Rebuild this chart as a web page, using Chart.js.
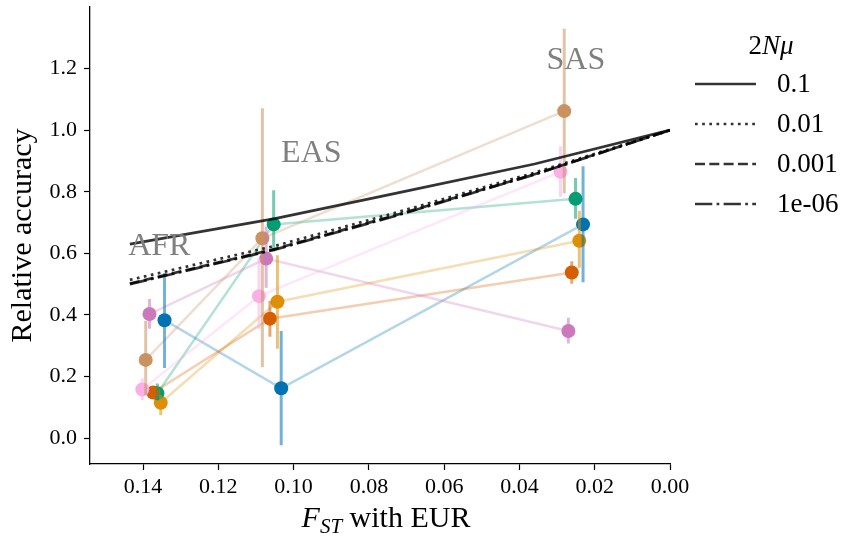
<!DOCTYPE html>
<html><head><meta charset="utf-8">
<script src="https://cdn.jsdelivr.net/npm/chart.js@4.4.1/dist/chart.umd.min.js"></script>
<style>html,body{margin:0;padding:0;background:#fff;}#wrap{width:847px;height:538px;}</style>
</head><body><div id="wrap"><canvas id="c" width="847" height="538"></canvas></div>
<script>
// ---------- data ----------
const populations = ['AFR', 'EAS', 'SAS'];
const xTicks = [0.14, 0.12, 0.10, 0.08, 0.06, 0.04, 0.02, 0.00];
const yTicks = [0.0, 0.2, 0.4, 0.6, 0.8, 1.0, 1.2];

const fst_pink   = [0.1402, 0.1092, 0.0291];
const acc_pink   = [0.158, 0.461, 0.865];
const lo_pink    = [0.123, 0.355, 0.784];
const hi_pink    = [0.194, 0.585, 0.948];

const fst_brown  = [0.1393, 0.1083, 0.0281];
const acc_brown  = [0.254, 0.649, 1.062];
const lo_brown   = [0.140, 0.230, 0.795];
const hi_brown   = [0.380, 1.071, 1.329];

const fst_purple = [0.1383, 0.1073, 0.0270];
const acc_purple = [0.403, 0.583, 0.348];
const lo_purple  = [0.355, 0.488, 0.307];
const hi_purple  = [0.452, 0.687, 0.391];

const fst_red    = [0.1373, 0.1063, 0.0261];
const acc_red    = [0.148, 0.388, 0.538];
const lo_red     = [0.130, 0.329, 0.501];
const hi_red     = [0.168, 0.445, 0.574];

const fst_green  = [0.1362, 0.1053, 0.0251];
const acc_green  = [0.146, 0.694, 0.777];
const lo_green   = [0.123, 0.606, 0.712];
const hi_green   = [0.177, 0.805, 0.845];

const fst_orange = [0.1353, 0.1043, 0.0241];
const acc_orange = [0.115, 0.443, 0.641];
const lo_orange  = [0.074, 0.290, 0.553];
const hi_orange  = [0.139, 0.594, 0.738];

const fst_blue   = [0.1343, 0.1033, 0.0231];
const acc_blue   = [0.383, 0.162, 0.694];
const lo_blue    = [0.228, -0.023, 0.506];
const hi_blue    = [0.536, 0.348, 0.883];

const theoryFst     = [0.1435, 0.105, 0.072, 0.036, 0.0];
const theory_1e_1   = [0.630, 0.713, 0.797, 0.890, 1.0];
const theory_1e_2   = [0.514, 0.624, 0.735, 0.862, 1.0];
const theory_1e_3   = [0.502, 0.614, 0.727, 0.857, 1.0];
const theory_1e_6   = [0.500, 0.612, 0.725, 0.856, 1.0];
const theoryLabels  = ['0.1', '0.01', '0.001', '1e-06'];

const regionLabelX = [0.1357, 0.0953, 0.0250];
const regionLabelY = [0.594, 0.897, 1.200];

// ---------- styling ----------
const SERIF = "'Liberation Serif', 'DejaVu Serif', serif";
const series = [
  {name: 'pink',   color: '#fbafe4', fst: fst_pink,   acc: acc_pink,   lo: lo_pink,   hi: hi_pink},
  {name: 'brown',  color: '#ca9161', fst: fst_brown,  acc: acc_brown,  lo: lo_brown,  hi: hi_brown},
  {name: 'purple', color: '#cc78bc', fst: fst_purple, acc: acc_purple, lo: lo_purple, hi: hi_purple},
  {name: 'red',    color: '#d55e00', fst: fst_red,    acc: acc_red,    lo: lo_red,    hi: hi_red},
  {name: 'green',  color: '#029e73', fst: fst_green,  acc: acc_green,  lo: lo_green,  hi: hi_green},
  {name: 'orange', color: '#de8f05', fst: fst_orange, acc: acc_orange, lo: lo_orange, hi: hi_orange},
  {name: 'blue',   color: '#0173b2', fst: fst_blue,   acc: acc_blue,   lo: lo_blue,   hi: hi_blue},
];
function rgba(hex, a) {
  const n = parseInt(hex.slice(1), 16);
  return `rgba(${(n >> 16) & 255},${(n >> 8) & 255},${n & 255},${a})`;
}
const LW = 2.7;
const theory = [
  {label: theoryLabels[0], vals: theory_1e_1, dash: []},
  {label: theoryLabels[1], vals: theory_1e_2, dash: [LW * 1, LW * 1.65]},
  {label: theoryLabels[2], vals: theory_1e_3, dash: [LW * 3.7, LW * 1.6]},
  {label: theoryLabels[3], vals: theory_1e_6, dash: [LW * 6.4, LW * 1.6, LW * 1, LW * 1.6]},
];
const THEORY_COLOR = 'rgba(0,0,0,0.8)';

const datasets = [];
theory.forEach(t => datasets.push({
  label: t.label, isTheory: true,
  data: theoryFst.map((x, i) => ({x, y: t.vals[i]})),
  showLine: true, pointRadius: 0, borderColor: THEORY_COLOR, borderWidth: LW,
  borderDash: t.dash, borderCapStyle: 'butt', order: 0
}));
series.forEach(s => {
  const bars = [];
  s.fst.forEach((x, i) => { bars.push({x, y: s.lo[i]}, {x, y: s.hi[i]}, {x, y: null}); });
  datasets.push({
    label: s.name + ' CI', data: bars, showLine: true, spanGaps: false, pointRadius: 0,
    borderColor: rgba(s.color, 0.55), borderWidth: 3, borderCapStyle: 'butt', order: 1
  });
  datasets.push({
    label: s.name, data: s.fst.map((x, i) => ({x, y: s.acc[i]})), showLine: false,
    pointRadius: 7, pointHoverRadius: 7, pointBackgroundColor: s.color, pointBorderWidth: 0, order: 2
  });
  datasets.push({
    label: s.name + ' line', data: s.fst.map((x, i) => ({x, y: s.acc[i]})), showLine: true,
    pointRadius: 0, borderColor: rgba(s.color, 0.3), borderWidth: 2.5, order: 3
  });
});

const overlay = {
  id: 'overlay',
  afterDatasetsDraw(chart) {
    const ctx = chart.ctx, xs = chart.scales.x, ys = chart.scales.y;
    ctx.save();
    ctx.fillStyle = '#808080';
    ctx.font = `32px ${SERIF}`;
    ctx.textAlign = 'center';
    ctx.textBaseline = 'alphabetic';
    populations.forEach((n, i) => ctx.fillText(n, xs.getPixelForValue(regionLabelX[i]), ys.getPixelForValue(regionLabelY[i])));
    ctx.restore();
  },
  afterDraw(chart) {
    const ctx = chart.ctx, ca = chart.chartArea;
    ctx.save();
    ctx.fillStyle = '#000';
    ctx.textBaseline = 'alphabetic';
    ctx.textAlign = 'left';
    const parts = [
      {t: 'F', f: `italic 30px ${SERIF}`, dy: 0},
      {t: 'ST', f: `italic 21px ${SERIF}`, dy: 6},
      {t: ' with EUR', f: `30px ${SERIF}`, dy: 0}
    ];
    let total = 0;
    parts.forEach(p => { ctx.font = p.f; p.w = ctx.measureText(p.t).width; total += p.w; });
    let x = (ca.left + ca.right) / 2 - total / 2 + 6;
    parts.forEach(p => { ctx.font = p.f; ctx.fillText(p.t, x, 527 + p.dy); x += p.w; });
    const tparts = [
      {t: '2', f: `27px ${SERIF}`},
      {t: 'N', f: `italic 27px ${SERIF}`},
      {t: 'μ', f: `italic 27px ${SERIF}`}
    ];
    total = 0;
    tparts.forEach(p => { ctx.font = p.f; p.w = ctx.measureText(p.t).width; total += p.w; });
    x = 771 - total / 2;
    tparts.forEach(p => { ctx.font = p.f; ctx.fillText(p.t, x, 54); x += p.w; });
    const tds = chart.data.datasets.filter(d => d.isTheory);
    tds.forEach((d, i) => {
      const y = 84 + i * 40;
      ctx.save();
      ctx.strokeStyle = d.borderColor;
      ctx.lineWidth = d.borderWidth;
      ctx.lineCap = 'butt';
      ctx.setLineDash(d.borderDash);
      ctx.beginPath(); ctx.moveTo(695, y); ctx.lineTo(756, y); ctx.stroke();
      ctx.restore();
      ctx.font = `27px ${SERIF}`;
      ctx.textBaseline = 'middle';
      ctx.fillText(d.label, 777, y + 1);
    });
    ctx.restore();
  }
};

new Chart(document.getElementById('c'), {
  type: 'scatter',
  data: {datasets},
  options: {
    responsive: false, animation: false, devicePixelRatio: 1,
    layout: {padding: {left: 0, right: 177, top: 4, bottom: 0}},
    plugins: {legend: {display: false}, tooltip: {enabled: false}},
    events: [],
    scales: {
      x: {
        type: 'linear', reverse: true, min: 0, max: 0.1541,
        afterBuildTicks: s => { s.ticks = xTicks.map(v => ({value: v})); },
        afterFit: s => { s.height = 74; s.paddingLeft = 0; s.paddingRight = 0; s.paddingTop = 0; s.paddingBottom = 0; },
        grid: {drawOnChartArea: false, drawTicks: true, tickLength: 6, tickColor: '#000', tickWidth: 1.2},
        border: {display: true, color: '#000', width: 1.3},
        ticks: {color: '#000', font: {family: SERIF, size: 22}, padding: 4, maxRotation: 0,
                callback: v => Number(v).toFixed(2)}
      },
      y: {
        type: 'linear', min: -0.084, max: 1.40,
        afterBuildTicks: s => { s.ticks = yTicks.map(v => ({value: v})); },
        afterFit: s => { s.width = 90; s.paddingTop = 0; s.paddingBottom = 0; s.paddingLeft = 0; s.paddingRight = 0; },
        grid: {drawOnChartArea: false, drawTicks: true, tickLength: 6, tickColor: '#000', tickWidth: 1.2},
        border: {display: true, color: '#000', width: 1.3},
        ticks: {color: '#000', font: {family: SERIF, size: 22}, padding: 7,
                callback: v => Number(v).toFixed(1)},
        title: {display: true, text: 'Relative accuracy', color: '#000',
                font: {family: SERIF, size: 30}, padding: {top: 5, bottom: 0}}
      }
    }
  },
  plugins: [overlay]
});
</script></body></html>
